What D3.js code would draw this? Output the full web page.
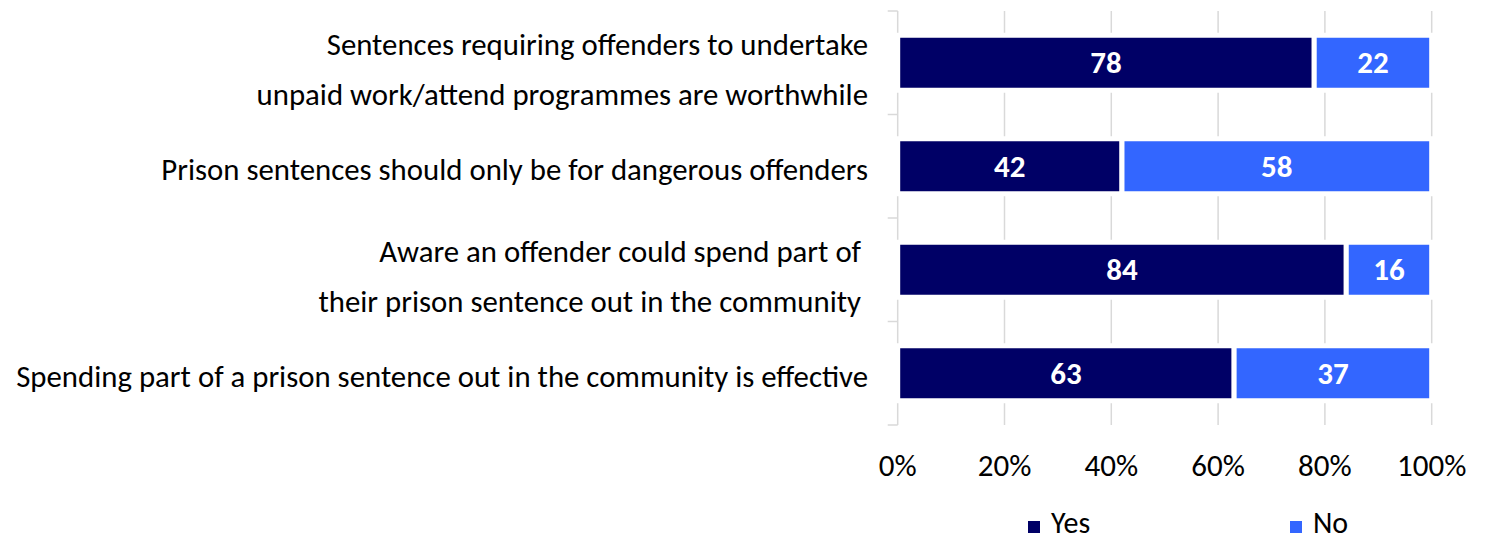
<!DOCTYPE html>
<html>
<head>
<meta charset="utf-8">
<script src="https://cdn.jsdelivr.net/npm/d3@7"></script>
<style>
  body { margin: 0; background: #fff; }
  text { font-family: Carlito, Lato, "Liberation Sans", sans-serif; }
</style>
</head>
<body>
<div id="chart"></div>
<script>
// chart data
var categories = [
  ["Sentences requiring offenders to undertake", "unpaid work/attend programmes are worthwhile"],
  ["Prison sentences should only be for dangerous offenders"],
  ["Aware an offender could spend part of ", "their prison sentence out in the community "],
  ["Spending part of a prison sentence out in the community is effective"]
]
var seriesNames = ["Yes", "No"]
var yesValues = [78, 42, 84, 63]
var noValues = [22, 58, 16, 37]
var tickValues = [0, 20, 40, 60, 80, 100]

drawbars()
function drawbars() {
  var width = 1494, height = 540
  var colors = ["#000066", "#3366ff"]

  var table = []
  for (var i = 0; i < categories.length; i++) {
    table.push({ idx: i, Yes: yesValues[i], No: noValues[i] })
  }
  var stacked = d3.stack().keys(seriesNames)(table)

  var svg = d3.select("#chart")
    .append("svg")
    .attr("width", width)
    .attr("height", height)

  var x = d3.scaleLinear().domain([0, 100]).range([897.7, 1431.7])
  var y = d3.scaleBand()
    .domain(d3.range(categories.length))
    .range([11, 425])
    .paddingInner(0.4686)
    .paddingOuter(0.2343)
  var step = y.step()
  var top = y.range()[0]

  // gridlines
  svg.append("g")
    .selectAll("line")
    .data(tickValues.slice(1))
    .enter().append("line")
    .attr("x1", d => x(d)).attr("x2", d => x(d))
    .attr("y1", top).attr("y2", top + step * categories.length)
    .attr("stroke", "#d9d9d9")
    .attr("stroke-width", 1.5)

  // y axis line and ticks
  var yAxis = svg.append("g")
  yAxis.append("line")
    .attr("x1", x(0)).attr("x2", x(0))
    .attr("y1", top).attr("y2", top + step * categories.length)
    .attr("stroke", "#d9d9d9")
    .attr("stroke-width", 1.5)
  yAxis.selectAll(".tk")
    .data(d3.range(categories.length + 1))
    .enter().append("line")
    .attr("class", "tk")
    .attr("x1", x(0) - 10).attr("x2", x(0))
    .attr("y1", d => top + d * step).attr("y2", d => top + d * step)
    .attr("stroke", "#d9d9d9")
    .attr("stroke-width", 1.5)

  // bars
  var layer = svg.selectAll(".layer")
    .data(stacked)
    .enter().append("g")
    .attr("class", "layer")
    .attr("fill", (d, i) => colors[i])

  layer.selectAll("rect")
    .data(d => d)
    .enter().append("rect")
    .attr("x", d => x(d[0]))
    .attr("width", d => x(d[1]) - x(d[0]))
    .attr("y", d => y(d.data.idx))
    .attr("height", y.bandwidth())
    .attr("stroke", "#fff")
    .attr("stroke-width", 5)

  // data labels
  layer.selectAll(".val")
    .data(d => d)
    .enter().append("text")
    .attr("class", "val")
    .attr("x", d => x((d[0] + d[1]) / 2))
    .attr("y", d => y(d.data.idx) + y.bandwidth() / 2 + 10.5)
    .attr("text-anchor", "middle")
    .attr("fill", "#fff")
    .style("font-weight", "bold")
    .style("font-size", "31px")
    .text(d => d[1] - d[0])

  // category labels
  var labels = svg.append("g")
    .selectAll("text")
    .data(categories)
    .enter().append("text")
    .attr("text-anchor", "end")
    .style("font-size", "30.8px")
    .style("white-space", "pre")
    .attr("fill", "#000")
  labels.each(function(d, i) {
    var c = y(i) + y.bandwidth() / 2
    var t = d3.select(this)
    if (d.length == 1) {
      t.append("tspan").attr("x", 868).attr("y", c + 14).text(d[0])
    } else {
      t.append("tspan").attr("x", 868).attr("y", c - 8).text(d[0])
      t.append("tspan").attr("x", 868).attr("y", c + 42).text(d[1])
    }
  })

  // x tick labels
  svg.append("g")
    .selectAll("text")
    .data(tickValues)
    .enter().append("text")
    .attr("x", d => x(d))
    .attr("y", 476)
    .attr("text-anchor", "middle")
    .style("font-size", "31px")
    .text(d => d + "%")

  // legend
  var legendX = [1028, 1290]
  var legend = svg.append("g")
    .selectAll("g")
    .data(seriesNames)
    .enter().append("g")
    .attr("transform", (d, i) => `translate(${legendX[i]}, 521)`)
  legend.append("rect")
    .attr("width", 12).attr("height", 12)
    .attr("fill", (d, i) => colors[i])
  legend.append("text")
    .attr("x", 23).attr("y", 12)
    .style("font-size", "30px")
    .text(d => d)
}
</script>
</body>
</html>
